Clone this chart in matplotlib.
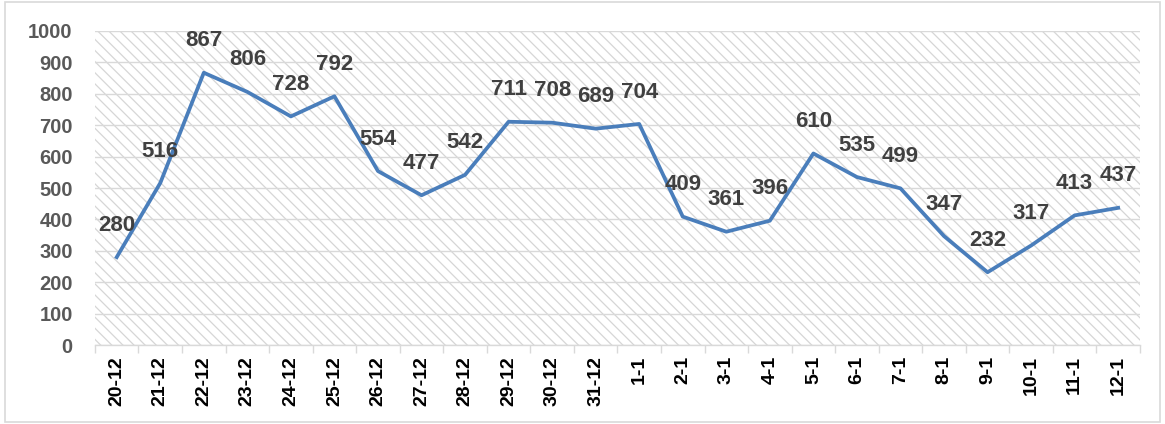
import matplotlib.pyplot as plt
import matplotlib
from matplotlib.patches import Rectangle

matplotlib.rcParams["font.family"] = ["Liberation Sans", "DejaVu Sans"]
matplotlib.rcParams["hatch.linewidth"] = 0.9

dates = ["20-12", "21-12", "22-12", "23-12", "24-12", "25-12", "26-12", "27-12",
         "28-12", "29-12", "30-12", "31-12", "1-1", "2-1", "3-1", "4-1", "5-1",
         "6-1", "7-1", "8-1", "9-1", "10-1", "11-1", "12-1"]
cases = [280, 516, 867, 806, 728, 792, 554, 477, 542, 711, 708, 689, 704,
         409, 361, 396, 610, 535, 499, 347, 232, 317, 413, 437]

fig = plt.figure(figsize=(11.65, 4.24), dpi=100)
ax = fig.add_axes([0.0815, 0.186, 0.897, 0.741])

# hatched plot-area background
bg = Rectangle((0, 0), 1, 1, transform=ax.transAxes, facecolor="white",
               edgecolor="#D6D6D6", hatch="\\\\\\", linewidth=0, zorder=0)
ax.add_patch(bg)
ax.patch.set_visible(False)

x = list(range(len(dates)))
ax.plot(x, cases, color="#4A7EBB", linewidth=2.7, zorder=3)

for xi, v in zip(x, cases):
    ax.annotate(str(v), (xi, v), xytext=(0, 23), textcoords="offset points",
                ha="center", va="center", fontsize=16, fontweight="bold",
                color="#404040", zorder=4)

ax.set_xlim(-0.5, len(dates) - 0.5)
ax.set_ylim(0, 1000)
ax.set_yticks(range(0, 1001, 100))
ax.yaxis.grid(True, color="#D9D9D9", linewidth=1)
ax.set_axisbelow(True)
ax.tick_params(axis="y", length=0, labelsize=14.5, labelcolor="#595959", pad=16)
for lbl in ax.get_yticklabels():
    lbl.set_fontweight("bold")

ax.set_xticks(x)
ax.set_xticklabels(dates, rotation=90, fontsize=14, fontweight="bold", color="black")
ax.set_xticks([i - 0.5 for i in range(len(dates) + 1)], minor=True)
ax.tick_params(axis="x", which="major", length=0, pad=8)
ax.tick_params(axis="x", which="minor", length=6, color="#D9D9D9", width=1)

for side in ("top", "right", "left"):
    ax.spines[side].set_visible(False)
ax.spines["bottom"].set_color("#D9D9D9")
ax.spines["bottom"].set_linewidth(1)

# outer chart border
fig.patches.append(Rectangle((0.004, 0.004), 0.992, 0.992, transform=fig.transFigure,
                             fill=False, edgecolor="#D9D9D9", linewidth=1.2))

fig.savefig("out.png", dpi=100)
